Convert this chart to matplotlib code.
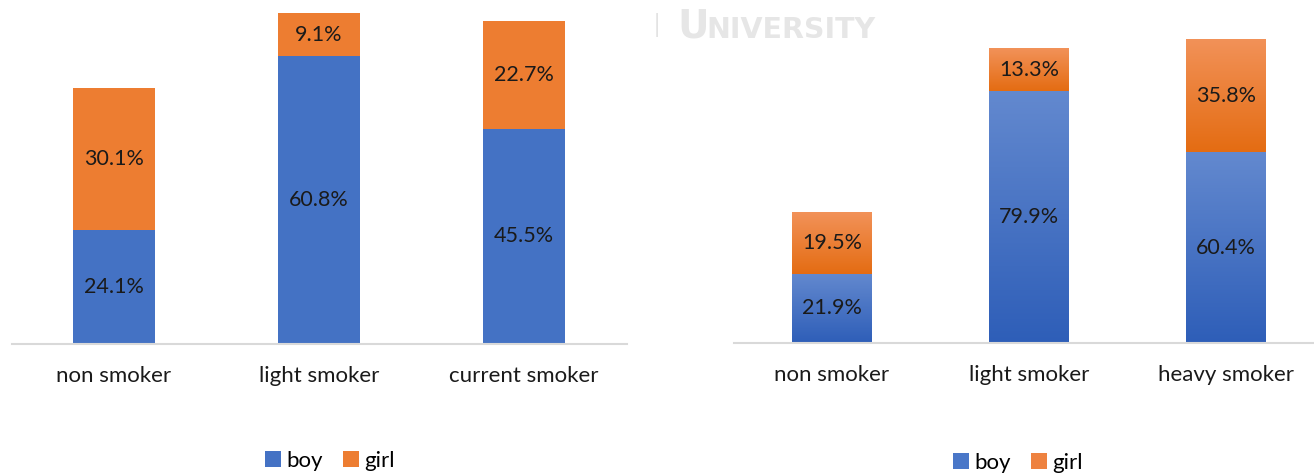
import matplotlib
matplotlib.use("Agg")
import matplotlib.pyplot as plt
import numpy as np
from matplotlib.patches import Patch
from matplotlib.colors import LinearSegmentedColormap

plt.rcParams['font.family'] = ['Lato', 'DejaVu Sans']

left_categories = ["non smoker", "light smoker", "current smoker"]
left_boy = [24.1, 60.8, 45.5]
left_girl = [30.1, 9.1, 22.7]

right_categories = ["non smoker", "light smoker", "heavy smoker"]
right_boy = [21.9, 79.9, 60.4]
right_girl = [19.5, 13.3, 35.8]

series_names = ["boy", "girl"]

BLUE = "#4472C4"
ORANGE = "#ED7D31"
W, H = 1314, 473
fig = plt.figure(figsize=(W / 100, H / 100), dpi=100)

def px_axes(x0, x1, ytop, ybot):
    return fig.add_axes([x0 / W, (H - ybot) / H, (x1 - x0) / W, (ybot - ytop) / H])

def style(ax, cats, ymax):
    ax.set_xlim(-0.5, 2.5)
    ax.set_ylim(0, ymax)
    for s in ["top", "right", "left"]:
        ax.spines[s].set_visible(False)
    ax.spines["bottom"].set_color("#D9D9D9")
    ax.spines["bottom"].set_linewidth(1.5)
    ax.set_yticks([])
    ax.set_xticks(range(len(cats)))
    ax.set_xticklabels(cats, fontsize=16, color="#1a1a1a")
    ax.tick_params(axis="x", length=0, pad=16)
    ax.patch.set_alpha(0)

def labels(ax, boy, girl):
    x = np.arange(len(boy))
    for i in range(len(boy)):
        ax.text(x[i], boy[i] / 2, f"{boy[i]:.1f}%", ha="center", va="center", fontsize=15.5, color="#1a1a1a", zorder=5)
        ax.text(x[i], boy[i] + girl[i] / 2, f"{girl[i]:.1f}%", ha="center", va="center", fontsize=15.5, color="#1a1a1a", zorder=5)

# Left panel
axL = px_axes(11.5, 626.5, 5, 344)
x = np.arange(3)
axL.bar(x, left_boy, width=0.4, color=BLUE)
axL.bar(x, left_girl, width=0.4, bottom=left_boy, color=ORANGE)
style(axL, left_categories, 339 / 4.73)
labels(axL, left_boy, left_girl)

# Right panel with gradients
axR = px_axes(733.5, 1324.5, 5, 343)
ymaxR = 338 / 3.16
bars_b = axR.bar(x, right_boy, width=0.406, color="none")
bars_g = axR.bar(x, right_girl, width=0.406, bottom=right_boy, color="none")
cmap_b = LinearSegmentedColormap.from_list("b", ["#2E5EB8", "#6389CF"])
cmap_g = LinearSegmentedColormap.from_list("g", ["#E46C12", "#F29259"])
grad = np.linspace(0, 1, 256).reshape(-1, 1)
for bars, cmap in [(bars_b, cmap_b), (bars_g, cmap_g)]:
    for b in bars:
        x0, y0 = b.get_x(), b.get_y()
        w, h = b.get_width(), b.get_height()
        im = axR.imshow(grad, cmap=cmap, origin="lower", aspect="auto",
                        extent=[x0, x0 + w, y0, y0 + h], zorder=2)
        im.set_clip_path(b)
style(axR, right_categories, ymaxR)
axR.set_xlim(-0.5, 2.5)
axR.set_ylim(0, ymaxR)
labels(axR, right_boy, right_girl)

# Legends
hL = [Patch(facecolor=BLUE), Patch(facecolor=ORANGE)]
fig.legend(hL, series_names, loc="center", bbox_to_anchor=(330 / W, 1 - 461 / H), ncol=2,
           frameon=False, fontsize=16, handlelength=0.7, handleheight=0.7,
           handletextpad=0.25, columnspacing=0.9)
hR = [Patch(facecolor="#4A77C8"), Patch(facecolor="#EE8240")]
fig.legend(hR, series_names, loc="center", bbox_to_anchor=(1018 / W, 1 - 463 / H), ncol=2,
           frameon=False, fontsize=16, handlelength=0.7, handleheight=0.7,
           handletextpad=0.25, columnspacing=0.9)

# Watermark
wm = ["DejaVu Sans"]
fig.text(657 / W, 1 - 25 / H, "|", fontsize=18, color="#E3E3E3", ha="center", va="center")
fig.text(677 / W, 1 - 38 / H, "U", fontsize=28, fontweight="bold", color="#E6E6E6",
         ha="left", va="baseline", family=wm)
fig.text(706 / W, 1 - 38 / H, "NIVERSITY", fontsize=20.5, fontweight="bold", color="#E6E6E6",
         ha="left", va="baseline", family=wm)

fig.savefig("out.png", dpi=100)
